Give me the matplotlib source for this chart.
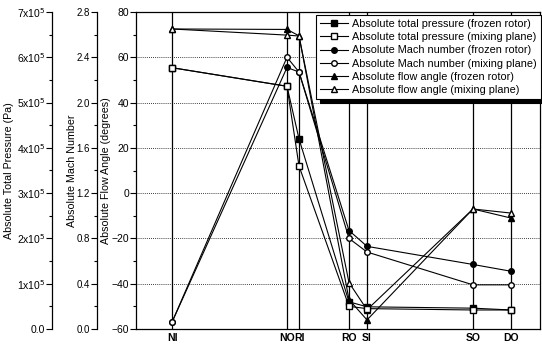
import numpy as np
import matplotlib
matplotlib.use("Agg")
import matplotlib.pyplot as plt
from matplotlib.ticker import MultipleLocator, FixedLocator

plt.rcParams['font.family'] = ['Liberation Sans', 'DejaVu Sans']

# stations along the machine (positions roughly proportional to axial distance)
stations = ['NI', 'NO', 'RI', 'RO', 'SI', 'SO', 'DO']
station_x = [0.0, 1.15, 1.27, 1.77, 1.95, 3.01, 3.39]

# absolute total pressure (Pa)
pressure_frozen = [5.77e5, 5.36e5, 4.2e5, 0.6e5, 0.49e5, 0.46e5, 0.42e5]
pressure_mixing = [5.77e5, 5.36e5, 3.6e5, 0.5e5, 0.45e5, 0.42e5, 0.42e5]

# absolute Mach number
mach_frozen = [0.06, 2.31, 2.27, 0.87, 0.73, 0.57, 0.51]
mach_mixing = [0.06, 2.40, 2.27, 0.80, 0.68, 0.39, 0.39]

# absolute flow angle (degrees)
angle_frozen = [72.5, 72.3, 69.5, -47.0, -56.0, -7.0, -11.0]
angle_mixing = [72.5, 69.8, 69.4, -39.5, -51.5, -7.0, -8.8]

fig = plt.figure(figsize=(5.42, 3.45), dpi=100)
W, H = 542.0, 345.0
ax = fig.add_axes([136 / W, 16 / H, 404 / W, 317 / H])
ax_mach = ax.twinx()
ax_pres = ax.twinx()

fs = 7.5
lw = 0.8

# flow angle axis (main)
ax.set_xlim(-0.36, 3.68)
ax.set_ylim(-60, 80)
ax.yaxis.set_major_locator(MultipleLocator(20))
ax.yaxis.set_minor_locator(MultipleLocator(10))
ax.yaxis.grid(True, which='major', linestyle=(0, (1, 1.5)), color='black', lw=0.6)
ax.set_xticks(station_x)
ax.set_xticklabels(stations, fontsize=fs, fontweight='bold')
ax.tick_params(axis='x', length=0, pad=3)
ax.tick_params(axis='y', which='major', length=4, width=0.8, labelsize=fs, pad=1)
ax.tick_params(axis='y', which='minor', length=2, width=0.8)
ax.set_ylabel('Absolute Flow Angle (degrees)', fontsize=fs + 0.2, labelpad=0)
for s in ax.spines.values():
    s.set_linewidth(0.9)
for x in station_x:
    ax.axvline(x, color='black', lw=0.9, zorder=1)

# extra left axes
def left_axis(a, offset, size):
    a.yaxis.set_ticks_position('left')
    a.yaxis.set_label_position('left')
    a.spines['left'].set_position(('axes', offset))
    a.spines['left'].set_visible(True)
    a.spines['left'].set_linewidth(0.9)
    for k in ('right', 'top', 'bottom'):
        a.spines[k].set_visible(False)
    a.tick_params(axis='y', which='major', length=4, width=0.8, labelsize=size, pad=1)
    a.tick_params(axis='y', which='minor', length=2, width=0.8)

left_axis(ax_mach, -39 / 404, 7)
ax_mach.set_ylim(0, 2.8)
ax_mach.yaxis.set_major_locator(MultipleLocator(0.4))
ax_mach.yaxis.set_minor_locator(MultipleLocator(0.2))
ax_mach.set_yticklabels([f'{v:.1f}' for v in ax_mach.get_yticks()])
ax_mach.set_ylabel('Absolute Mach Number', fontsize=fs + 0.2, labelpad=0)

left_axis(ax_pres, -84 / 404, fs)
ax_pres.set_ylim(0, 7e5)
p_ticks = np.arange(0, 8) * 1e5
ax_pres.yaxis.set_major_locator(FixedLocator(p_ticks))
ax_pres.yaxis.set_minor_locator(MultipleLocator(0.5e5))
ax_pres.set_yticklabels(['0.0'] + [f'{i}x10$^{{5}}$' for i in range(1, 8)])
ax_pres.set_ylabel('Absolute Total Pressure (Pa)', fontsize=fs + 0.2, labelpad=2)

ms = 4
handles = []
handles += ax_pres.plot(station_x, pressure_frozen, '-s', color='black', lw=lw, ms=ms,
                        mfc='black', label='Absolute total pressure (frozen rotor)')
handles += ax_pres.plot(station_x, pressure_mixing, '-s', color='black', lw=lw, ms=ms,
                        mfc='white', label='Absolute total pressure (mixing plane)')
handles += ax_mach.plot(station_x, mach_frozen, '-o', color='black', lw=lw, ms=ms,
                        mfc='black', label='Absolute Mach number (frozen rotor)')
handles += ax_mach.plot(station_x, mach_mixing, '-o', color='black', lw=lw, ms=ms,
                        mfc='white', label='Absolute Mach number (mixing plane)')
h5, = ax.plot(station_x, angle_frozen, '-^', color='black', lw=lw, ms=ms + 0.5,
              mfc='black', label='Absolute flow angle (frozen rotor)', zorder=3)
h6, = ax.plot(station_x, angle_mixing, '-^', color='black', lw=lw, ms=ms + 0.5,
              mfc='white', label='Absolute flow angle (mixing plane)', zorder=3)
handles += [h5, h6]

leg = ax_pres.legend(handles=handles, loc='upper left',
                     bbox_to_anchor=(316 / W, 330 / H), bbox_transform=fig.transFigure,
                     fontsize=7.8, frameon=True, fancybox=False,
                     shadow={'color': 'black', 'alpha': 1, 'ox': 3, 'oy': -3},
                     borderpad=0.35, labelspacing=0.3, handlelength=2.6,
                     handletextpad=0.4, borderaxespad=0)
leg.get_frame().set_edgecolor('black')
leg.get_frame().set_linewidth(0.8)
leg.set_zorder(10)

fig.savefig('out.png', dpi=100)
